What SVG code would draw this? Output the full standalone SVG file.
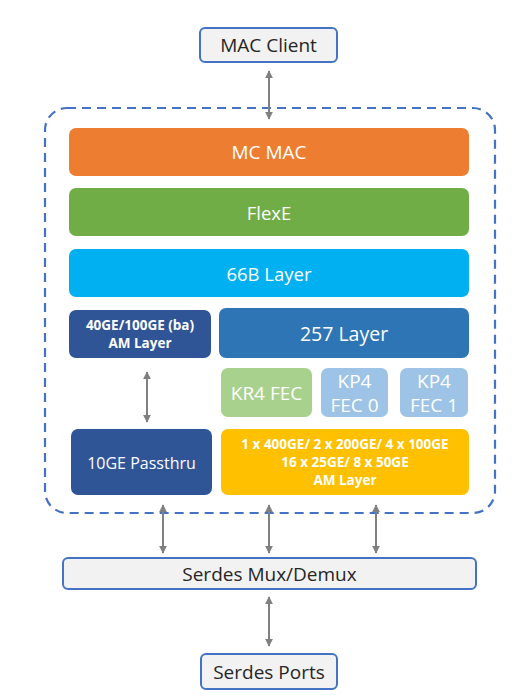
<svg xmlns="http://www.w3.org/2000/svg" width="525" height="700" viewBox="0 0 525 700">
<style>
text{font-family:"Open Sans","Liberation Sans",sans-serif;text-anchor:middle;dominant-baseline:central}
.ext{fill:#F2F2F2;stroke:#4472C4;stroke-width:2}
.ext-t{fill:#262626;font-size:19px}
.w{fill:#FFFFFF;font-size:18.5px}
.wb{fill:#FFFFFF;font-size:13.5px;font-weight:bold}
.conn{stroke:#808080;stroke-width:2;fill:none;marker-start:url(#ah);marker-end:url(#ah)}
</style>
<defs>
<marker id="ah" viewBox="0 0 10 10" refX="9" refY="5" markerWidth="4" markerHeight="4" orient="auto-start-reverse">
<path d="M0,0 L10,5 L0,10 z" fill="#808080"/>
</marker>
</defs>
<rect width="525" height="700" fill="#FFFFFF"/>
<rect id="container" x="45" y="108" width="450" height="405" rx="22" fill="none" stroke="#4472C4" stroke-width="2.2" stroke-dasharray="9,6"/>
<g id="connectors">
<line class="conn" x1="269" y1="71" x2="269" y2="119"/>
<line class="conn" x1="147" y1="372" x2="147" y2="422"/>
<line class="conn" x1="163" y1="505" x2="163" y2="553"/>
<line class="conn" x1="269" y1="505" x2="269" y2="553"/>
<line class="conn" x1="376" y1="505" x2="376" y2="553"/>
<line class="conn" x1="269" y1="597" x2="269" y2="646"/>
</g>
<g id="mac-client"><rect class="ext" x="200" y="28" width="137" height="34" rx="5"/><text class="ext-t" x="268.5" y="45">MAC Client</text></g>
<g id="mc-mac"><rect x="69" y="128" width="400" height="48" rx="7" fill="#ED7D31"/><text class="w" x="269" y="152" style="font-size:19px">MC MAC</text></g>
<g id="flexe"><rect x="69" y="188" width="400" height="48" rx="7" fill="#70AD47"/><text class="w" x="269" y="212">FlexE</text></g>
<g id="layer66b"><rect x="69" y="249" width="400" height="48" rx="7" fill="#00B0F0"/><text class="w" x="269" y="273">66B Layer</text></g>
<g id="am40"><rect x="69" y="310" width="142" height="48" rx="7" fill="#2F5597"/><text class="wb" x="140" y="325">40GE/100GE (ba)</text><text class="wb" x="140" y="343">AM Layer</text></g>
<g id="layer257"><rect x="219" y="308" width="250" height="50" rx="7" fill="#2E75B6"/><text class="w" x="344" y="333" style="font-size:19.5px">257 Layer</text></g>
<g id="kr4"><rect x="221" y="368" width="91" height="49" rx="7" fill="#A9D18E"/><text class="w" x="266.5" y="392.5" style="font-size:19px">KR4 FEC</text></g>
<g id="kp4-0"><rect x="321" y="368" width="67" height="49" rx="7" fill="#9DC3E6"/><text class="w" x="354.5" y="381" style="font-size:19px">KP4</text><text class="w" x="354.5" y="405" style="font-size:19px">FEC 0</text></g>
<g id="kp4-1"><rect x="400" y="368" width="68" height="49" rx="7" fill="#9DC3E6"/><text class="w" x="434" y="381" style="font-size:19px">KP4</text><text class="w" x="434" y="405" style="font-size:19px">FEC 1</text></g>
<g id="passthru"><rect x="71" y="429" width="141" height="66" rx="7" fill="#2F5597"/><text class="w" x="141.5" y="463" style="font-size:16px">10GE Passthru</text></g>
<g id="am-multi"><rect x="221" y="429" width="248" height="66" rx="7" fill="#FFC000"/><text class="wb" x="345" y="444">1 x 400GE/ 2 x 200GE/ 4 x 100GE</text><text class="wb" x="345" y="462">16 x 25GE/ 8 x 50GE</text><text class="wb" x="345" y="480">AM Layer</text></g>
<g id="serdes-mux"><rect class="ext" x="63" y="558" width="413" height="31" rx="5"/><text class="ext-t" x="269.5" y="574">Serdes Mux/Demux</text></g>
<g id="serdes-ports"><rect class="ext" x="201" y="654" width="136" height="35" rx="5"/><text class="ext-t" x="269" y="671.5">Serdes Ports</text></g>
</svg>
